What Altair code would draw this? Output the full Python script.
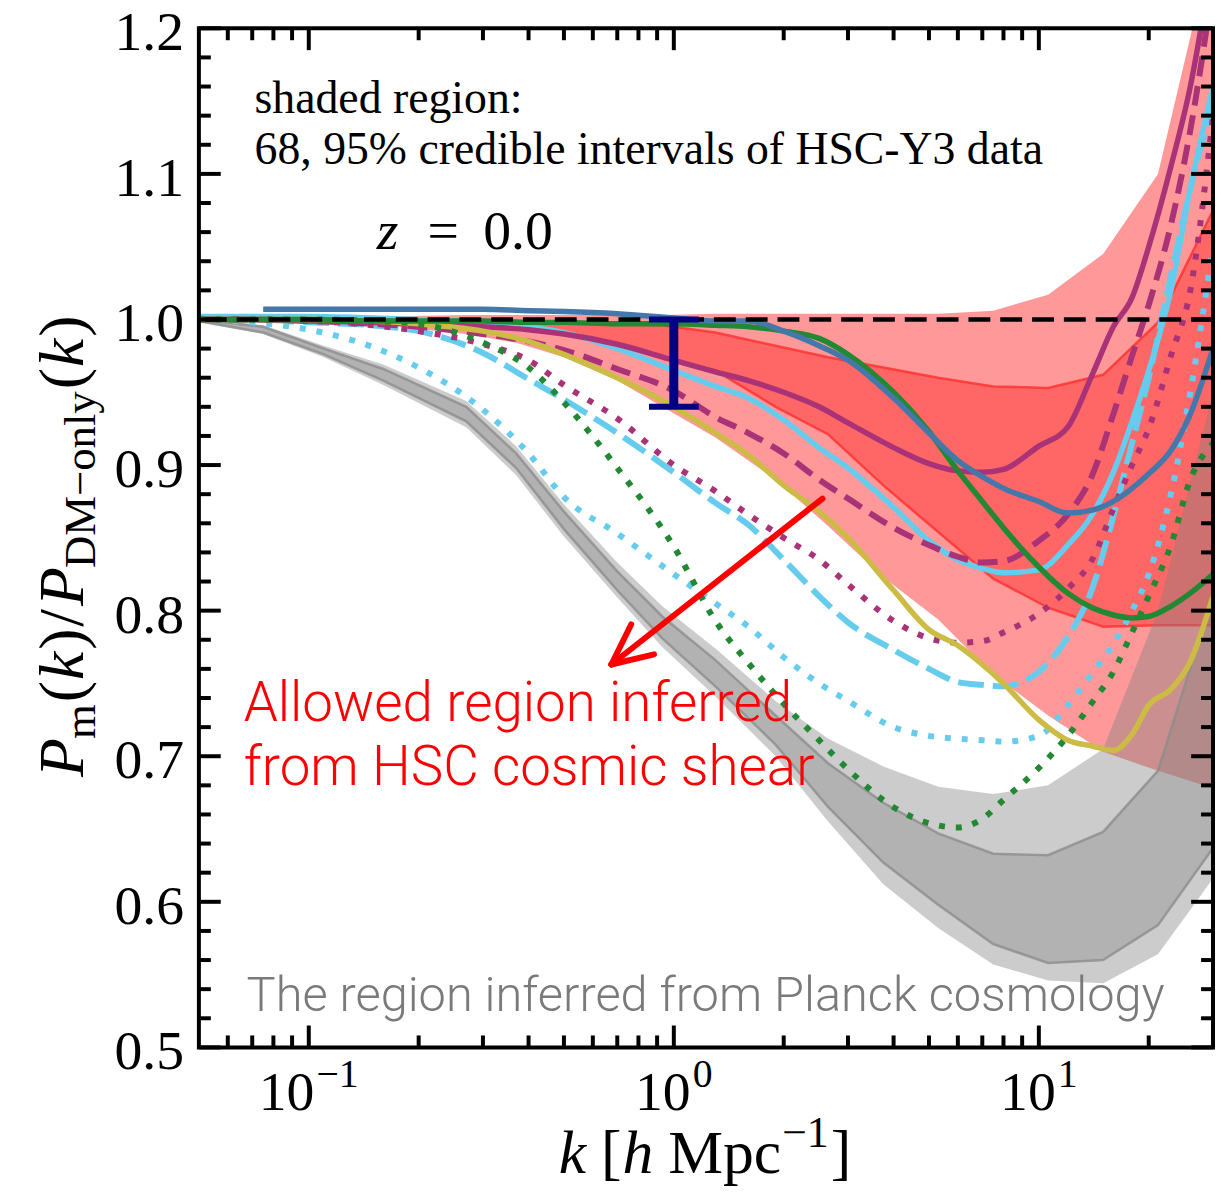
import altair as alt
import pandas as pd

# ------------------------------------------------------------------ data
K = [0.05, 0.07, 0.1, 0.15, 0.2, 0.3, 0.4, 0.5, 0.7, 1.0, 1.3, 1.6, 2.0, 2.5, 3.0,
     4.0, 5.0, 6.0, 7.0, 8.0, 10.0, 12.0, 14.0, 16.0, 18.0, 20.0, 23.0, 26.0, 30.0]

BLUE_K = [0.075, 0.1, 0.15, 0.2, 0.3, 0.4, 0.5, 0.7, 1.0, 1.3, 1.6, 2.0, 2.5, 3.0,
          4.0, 5.0, 6.0, 7.0, 8.0, 10.0, 12.0, 14.0, 16.0, 18.0, 20.0, 23.0, 26.0, 30.0]
BLUE_SOLID = [1.007, 1.007, 1.007, 1.007, 1.007, 1.006, 1.0055, 1.004, 1.001, 0.999, 0.999,
              0.992, 0.982, 0.972, 0.946, 0.922, 0.903, 0.892, 0.884, 0.875, 0.867, 0.869,
              0.875, 0.884, 0.894, 0.910, 0.935, 0.980]
GREEN_SOLID = [1.0, 1.0, 1.0, 0.999, 0.999, 0.999, 0.998, 0.998, 0.997, 0.997, 0.996, 0.995,
               0.992, 0.987, 0.976, 0.950, 0.923, 0.896, 0.875, 0.857, 0.830, 0.812, 0.802,
               0.797, 0.795, 0.796, 0.803, 0.812, 0.825]
PURPLE_SOLID = [1.0, 1.0, 0.999, 0.998, 0.997, 0.995, 0.993, 0.990, 0.983, 0.972, 0.964, 0.958,
                0.950, 0.940, 0.929, 0.912, 0.901, 0.896, 0.895, 0.897, 0.913, 0.926, 0.962,
                0.995, 1.015, 1.050, 1.105, 1.160, 1.250]
PURPLE_DASHED = [1.0, 1.0, 0.999, 0.997, 0.995, 0.990, 0.985, 0.979, 0.966, 0.951, 0.933, 0.922,
                 0.908, 0.890, 0.877, 0.857, 0.845, 0.837, 0.833, 0.834, 0.848, 0.866, 0.893,
                 0.935, 0.975, 1.010, 1.065, 1.130, 1.230]
PURPLE_DOTTED = [1.0, 1.0, 0.999, 0.996, 0.992, 0.983, 0.972, 0.955, 0.932, 0.900, 0.882, 0.866,
                 0.850, 0.835, 0.818, 0.793, 0.781, 0.778, 0.779, 0.785, 0.798, 0.815, 0.835,
                 0.870, 0.900, 0.925, 0.975, 1.020, 1.140]
CYAN_SOLID = [1.002, 1.002, 1.002, 1.001, 1.0, 0.998, 0.995, 0.991, 0.980, 0.965, 0.954, 0.946,
              0.931, 0.912, 0.898, 0.871, 0.848, 0.835, 0.829, 0.826, 0.828, 0.845, 0.866,
              0.895, 0.930, 0.965, 1.020, 1.090, 1.160]
CYAN_DASHED = [1.0, 1.0, 0.998, 0.996, 0.992, 0.977, 0.959, 0.945, 0.922, 0.895, 0.874, 0.859,
               0.835, 0.810, 0.792, 0.773, 0.760, 0.751, 0.749, 0.748, 0.758, 0.782, 0.815,
               0.865, 0.915, 0.960, 1.030, 1.090, 1.150]
CYAN_DOTTED = [1.0, 0.998, 0.993, 0.981, 0.967, 0.938, 0.908, 0.878, 0.853, 0.825, 0.805, 0.789,
               0.768, 0.750, 0.738, 0.720, 0.714, 0.712, 0.711, 0.710, 0.714, 0.735, 0.757,
               0.777, 0.800, 0.825, 0.880, 0.950, 1.050]
YELLOW_SOLID = [1.0, 1.0, 1.0, 0.999, 0.997, 0.992, 0.985, 0.976, 0.960, 0.940, 0.922, 0.907,
                0.886, 0.868, 0.850, 0.814, 0.787, 0.776, 0.763, 0.750, 0.725, 0.711, 0.707,
                0.704, 0.715, 0.735, 0.746, 0.765, 0.810]
GREEN_DOTTED = [1.0, 1.0, 1.0, 0.999, 0.997, 0.984, 0.967, 0.943, 0.898, 0.844, 0.793, 0.764,
                0.736, 0.711, 0.691, 0.665, 0.654, 0.651, 0.657, 0.670, 0.692, 0.714, 0.737,
                0.758, 0.785, 0.810, 0.845, 0.890, 0.915]

# credible-interval bands (nodes in k)
NODES = [0.05, 0.075, 0.11, 0.16, 0.27, 0.37, 0.5, 0.7, 0.93, 1.3, 1.9, 2.65, 3.75,
         5.3, 7.5, 10.6, 15.0, 21.2, 30.0]
HSC_95_LO = [1.0, 1.0, 0.999, 0.996, 0.990, 0.984, 0.974, 0.958, 0.940, 0.919, 0.890, 0.858,
             0.823, 0.794, 0.756, 0.728, 0.703, 0.690, 0.678]
HSC_68_LO = [1.0, 1.0, 1.0, 0.999, 0.997, 0.994, 0.990, 0.983, 0.973, 0.965, 0.940, 0.921,
             0.886, 0.854, 0.822, 0.802, 0.789, 0.790, 0.790]
HSC_68_HI = [1.0, 1.0, 1.0, 1.0, 1.0, 0.999, 0.998, 0.997, 0.996, 0.991, 0.982, 0.974,
             0.967, 0.960, 0.954, 0.953, 0.962, 0.998, 1.075]
HSC_95_HI = [1.0, 1.0, 1.001, 1.002, 1.003, 1.003, 1.003, 1.003, 1.003, 1.004, 1.004, 1.004,
             1.004, 1.004, 1.006, 1.017, 1.045, 1.100, 1.260]
PL_95_LO = [0.998, 0.990, 0.974, 0.955, 0.926, 0.893, 0.851, 0.809, 0.775, 0.741, 0.700, 0.655,
            0.612, 0.582, 0.557, 0.546, 0.544, 0.564, 0.616]
PL_68_LO = [0.999, 0.991, 0.976, 0.958, 0.930, 0.898, 0.856, 0.814, 0.781, 0.748, 0.708, 0.665,
            0.627, 0.598, 0.571, 0.558, 0.560, 0.584, 0.637]
PL_68_HI = [1.0, 0.995, 0.980, 0.966, 0.940, 0.908, 0.868, 0.827, 0.796, 0.766, 0.728, 0.695,
            0.668, 0.647, 0.633, 0.632, 0.648, 0.690, 0.810]
PL_95_HI = [1.001, 0.996, 0.982, 0.969, 0.944, 0.913, 0.873, 0.833, 0.803, 0.774, 0.738, 0.712,
            0.693, 0.679, 0.674, 0.680, 0.705, 0.800, 0.950]

# error bar at k = 1
ERR_K = [1.0]
ERR_LO = [0.940]
ERR_HI = [1.0]
ERR_CAP_K = [0.855, 1.17]

# arrow (k, v) segments: shaft + two head strokes
ARROW_K1 = [2.554, 0.6745, 0.6745]
ARROW_V1 = [0.877, 0.763, 0.763]
ARROW_K2 = [0.6745, 0.764, 0.8825]
ARROW_V2 = [0.763, 0.7905, 0.770]

# ticks and labels
X_MAJOR = [0.1, 1.0, 10.0]
X_EXP = ["\u22121", "0", "1"]
X_MINOR = [0.06, 0.07, 0.08, 0.09, 0.2, 0.3, 0.4, 0.5, 0.6, 0.7, 0.8, 0.9,
           2, 3, 4, 5, 6, 7, 8, 9, 20]
Y_MAJOR = [0.5, 0.6, 0.7, 0.8, 0.9, 1.0, 1.1, 1.2]
Y_LABELS = ["0.5", "0.6", "0.7", "0.8", "0.9", "1.0", "1.1", "1.2"]
Y_MINOR = [0.52, 0.54, 0.56, 0.58, 0.62, 0.64, 0.66, 0.68, 0.72, 0.74, 0.76, 0.78,
           0.82, 0.84, 0.86, 0.88, 0.92, 0.94, 0.96, 0.98, 1.02, 1.04, 1.06, 1.08,
           1.12, 1.14, 1.16, 1.18]

TXT_SHADED_1 = "shaded region:"
TXT_SHADED_2 = "68, 95% credible intervals of HSC-Y3 data"
TXT_RED_1 = "Allowed region inferred"
TXT_RED_2 = "from HSC cosmic shear"
TXT_GRAY = "The region inferred from Planck cosmology"

# ------------------------------------------------------------------ setup
W, H = 1020, 1025
SERIF = "Liberation Serif"
SANS = "Roboto"

xs = alt.Scale(type="log", domain=[0.05, 30], nice=False)
ys = alt.Scale(domain=[0.5, 1.2], nice=False, zero=False)


def X(f="k"):
    return alt.X(f"{f}:Q", scale=xs, axis=None)


def Y(f="v"):
    return alt.Y(f"{f}:Q", scale=ys, axis=None)


ROMAN = {'P': .556, 'm': .778, '(': .333, ')': .333, '/': .278, 'D': .722, 'M': .889,
         '\u2212': .564, 'o': .5, 'n': .5, 'l': .278, 'y': .5, '[': .333, ']': .333,
         'p': .5, 'c': .444, '1': .5, '0': .5, ' ': .25, '=': .564, '.': .25}
ITALIC = {'P': .611, 'k': .444, 'h': .5, 'z': .389}


def tw(s, size, italic=False):
    tab = ITALIC if italic else ROMAN
    return sum(tab.get(ch, .5) for ch in s) * size


def text_at(s, x, y, size, font=SERIF, style="normal", weight="normal", color="black",
            align="left", angle=0, dx=0, dy=0):
    kw = dict(font=font, fontSize=size, fontStyle=style, fontWeight=weight, color=color,
              align=align, baseline="alphabetic", dx=dx, dy=dy)
    if angle:
        kw["angle"] = angle
    return alt.Chart(pd.DataFrame({"t": [s]})).mark_text(**kw).encode(
        text="t:N", x=alt.value(x), y=alt.value(y))


layers = []

# ---------------- bands
hsc = pd.DataFrame({"k": NODES, "lo95": HSC_95_LO, "hi95": HSC_95_HI,
                    "lo68": HSC_68_LO, "hi68": HSC_68_HI})
pl = pd.DataFrame({"k": NODES, "lo95": PL_95_LO, "hi95": PL_95_HI,
                   "lo68": PL_68_LO, "hi68": PL_68_HI})

layers.append(alt.Chart(hsc).mark_area(color="#ff0000", opacity=0.4, clip=True).encode(
    x=X(), y=Y("lo95"), y2=alt.Y2("hi95")))
layers.append(alt.Chart(hsc).mark_area(color="#ff0000", opacity=0.333, clip=True).encode(
    x=X(), y=Y("lo68"), y2=alt.Y2("hi68")))
for f in ["lo68", "hi68"]:
    layers.append(alt.Chart(hsc).mark_line(color="#ff3030", strokeWidth=2.5, opacity=0.8,
                                           clip=True).encode(x=X(), y=Y(f)))

layers.append(alt.Chart(pl).mark_area(color="#808080", opacity=0.4, clip=True).encode(
    x=X(), y=Y("lo95"), y2=alt.Y2("hi95")))
layers.append(alt.Chart(pl).mark_area(color="#808080", opacity=0.34, clip=True).encode(
    x=X(), y=Y("lo68"), y2=alt.Y2("hi68")))
for f in ["lo68", "hi68"]:
    layers.append(alt.Chart(pl).mark_line(color="#8c8c8c", strokeWidth=2.5, opacity=0.8,
                                          clip=True).encode(x=X(), y=Y(f)))

# ---------------- curves
DOT = [6, 11]
curves = [
    (K, CYAN_DOTTED, "#66CCEE", DOT),
    (K, CYAN_DASHED, "#66CCEE", [26, 9]),
    (K, CYAN_SOLID, "#66CCEE", None),
    (K, PURPLE_DOTTED, "#AA3377", DOT),
    (K, PURPLE_DASHED, "#AA3377", [20, 10]),
    (K, PURPLE_SOLID, "#AA3377", None),
    (K, YELLOW_SOLID, "#CCBB44", None),
    (K, GREEN_DOTTED, "#228833", DOT),
    (K, GREEN_SOLID, "#228833", None),
    (BLUE_K, BLUE_SOLID, "#4477AA", None),
]
for kk, vv, col, dash in curves:
    props = dict(color=col, strokeWidth=6 if dash else 5.5, clip=True,
                 interpolate="monotone")
    if dash:
        props["strokeDash"] = dash
    layers.append(alt.Chart(pd.DataFrame({"k": kk, "v": vv})).mark_line(**props).encode(
        x=X(), y=Y()))

# ---------------- reference line at 1
layers.append(alt.Chart(pd.DataFrame({"v": [1.0]})).mark_rule(
    color="black", strokeWidth=4.5, strokeDash=[22, 10]).encode(y=Y()))

# ---------------- error bar
layers.append(alt.Chart(pd.DataFrame({"k": ERR_K, "lo": ERR_LO, "hi": ERR_HI})).mark_rule(
    color="#000080", strokeWidth=9).encode(x=X(), y=Y("lo"), y2=alt.Y2("hi")))
caps = pd.DataFrame({"k": ERR_CAP_K[:1] * 2, "k2": ERR_CAP_K[1:] * 2,
                     "v": [ERR_LO[0], ERR_HI[0]]})
layers.append(alt.Chart(caps).mark_rule(color="#000080", strokeWidth=6).encode(
    x=X(), x2=alt.X2("k2"), y=Y()))

# ---------------- arrow
arrow = pd.DataFrame({"k": ARROW_K1, "v": ARROW_V1, "k2": ARROW_K2, "v2": ARROW_V2})
layers.append(alt.Chart(arrow).mark_rule(color="#ff0000", strokeWidth=6,
                                         strokeCap="round").encode(
    x=X(), y=Y(), x2=alt.X2("k2"), y2=alt.Y2("v2")))

# ---------------- annotations
layers.append(text_at(TXT_SHADED_1, 56, 85, 46))
layers.append(text_at(TXT_SHADED_2, 56, 136, 46))
layers.append(text_at("z", 179, 222, 56, style="italic"))
layers.append(text_at("=", 230, 222, 56))
layers.append(text_at("0.0", 286, 222, 56))
layers.append(text_at(TXT_RED_1, 45, 697, 55, font=SANS, weight=300, color="#ff0000"))
layers.append(text_at(TXT_RED_2, 45, 761, 55, font=SANS, weight=300, color="#ff0000"))
layers.append(text_at(TXT_GRAY, 48, 988, 49, font=SANS, weight=300, color="#7a7a7a"))

# ---------------- y tick labels
layers.append(alt.Chart(pd.DataFrame({"v": Y_MAJOR, "t": Y_LABELS})).mark_text(
    font=SERIF, fontSize=56, align="right", baseline="middle", color="black", dx=-15,
    dy=5).encode(y=Y(), x=alt.value(0), text="t:N"))

# ---------------- x tick labels 10^n
for v, e in zip(X_MAJOR, X_EXP):
    wb = tw("10", 56)
    tot = wb + 2 + tw(e, 40)
    d = pd.DataFrame({"k": [v], "t": ["10"], "e": [e]})
    layers.append(alt.Chart(d).mark_text(font=SERIF, fontSize=56, align="left",
                                         baseline="alphabetic", dx=-tot / 2,
                                         color="black").encode(
        x=X(), y=alt.value(H + 63), text="t:N"))
    layers.append(alt.Chart(d).mark_text(font=SERIF, fontSize=40, align="left",
                                         baseline="alphabetic", dx=-tot / 2 + wb + 2,
                                         dy=-23, color="black").encode(
        x=X(), y=alt.value(H + 63), text="e:N"))

# ---------------- x title: k [h Mpc^-1]
xt = [("k", True, 0, 0), ("[", False, 0, 15), ("h", True, 0, 1), ("Mpc", False, 0, 15),
      ("\u22121", False, 1, 1), ("]", False, 0, 2)]
pos, cur = [], 0.0
for s, it, sup, gap in xt:
    cur += gap
    pos.append(cur)
    cur += tw(s, 44 if sup else 62, it)
x0 = 509 - cur / 2
for (s, it, sup, gap), p in zip(xt, pos):
    layers.append(text_at(s, x0 + p, H + 126, 44 if sup else 62,
                          style="italic" if it else "normal", dy=-26 if sup else 0))

# ---------------- y title: P_m(k)/P_DM-only(k)  (rotated)
yt = [("P", True, 0, 0), ("m", False, 1, -1), ("(", False, 0, 2), ("k", True, 0, 1),
      (")", False, 0, 2), ("/", False, 0, 2), ("P", True, 0, 3),
      ("DM\u2212only", False, 1, -1), ("(", False, 0, 2), ("k", True, 0, 1),
      (")", False, 0, 2)]
pos, cur = [], 0.0
for s, it, sub, gap in yt:
    cur += gap
    pos.append(cur)
    cur += tw(s, 45 if sub else 64, it)
y0 = 521 + cur / 2
for (s, it, sub, gap), p in zip(yt, pos):
    layers.append(text_at(s, -117, y0, 45 if sub else 64,
                          style="italic" if it else "normal", angle=270,
                          dx=p, dy=13 if sub else 0))


# ---------------- inward ticks on all four sides
def xticks(vals, length):
    d = pd.DataFrame({"k": vals})
    return [
        alt.Chart(d).mark_rule(color="black", strokeWidth=4).encode(
            x=X(), y=alt.value(H), y2=alt.value(H - length)),
        alt.Chart(d).mark_rule(color="black", strokeWidth=4).encode(
            x=X(), y=alt.value(0), y2=alt.value(length)),
    ]


def yticks(vals, length):
    d = pd.DataFrame({"v": vals})
    return [
        alt.Chart(d).mark_rule(color="black", strokeWidth=4).encode(
            y=Y(), x=alt.value(0), x2=alt.value(length)),
        alt.Chart(d).mark_rule(color="black", strokeWidth=4).encode(
            y=Y(), x=alt.value(W), x2=alt.value(W - length)),
    ]


layers += xticks(X_MAJOR, 22) + xticks(X_MINOR, 12)
layers += yticks(Y_MAJOR, 22) + yticks(Y_MINOR, 12)

# ---------------- frame
layers.append(alt.Chart(pd.DataFrame({"a": [0]})).mark_rect(
    fill=None, stroke="black", strokeWidth=4).encode(
    x=alt.value(0), x2=alt.value(W), y=alt.value(0), y2=alt.value(H)))

chart = alt.layer(*layers).properties(
    width=W, height=H,
    padding={"left": 192, "top": 17, "right": 2, "bottom": 138},
    autosize=alt.AutoSizeParams(type="none"),
).configure_view(strokeWidth=0)

chart.save("out.html", embed_options={"renderer": "svg", "actions": False})
